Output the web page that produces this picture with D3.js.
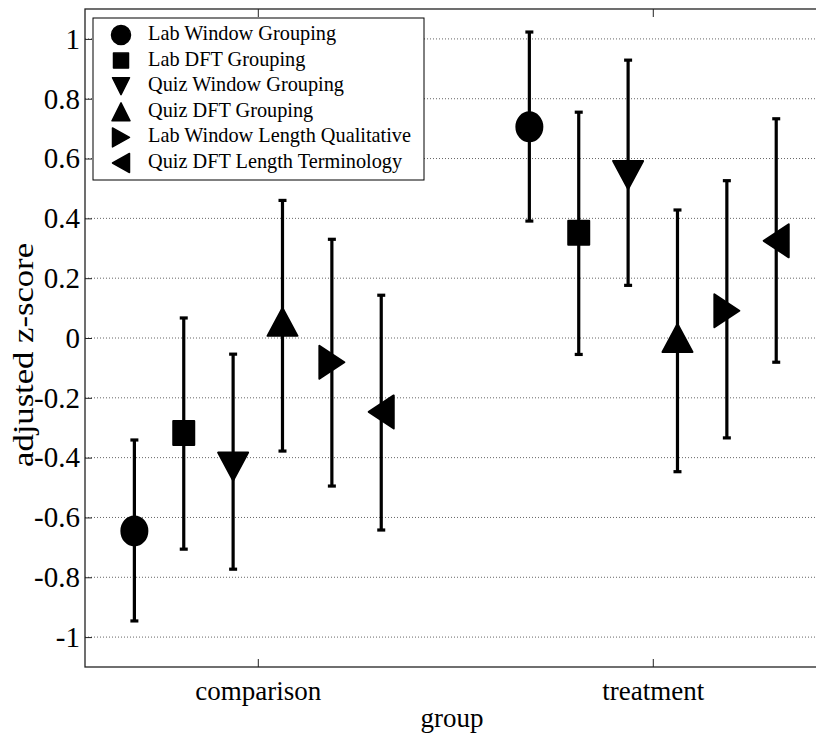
<!DOCTYPE html>
<html>
<head>
<meta charset="utf-8">
<script src="https://cdn.jsdelivr.net/npm/d3@7/dist/d3.min.js"></script>
<style>
body { margin: 0; background: #fff; }
text { font-family: "Liberation Serif", "Times New Roman", serif !important; fill: #000; }
</style>
</head>
<body>
<svg width="816" height="738"></svg>
<script>
var groups = ["comparison", "treatment"];
var seriesNames = ["Lab Window Grouping", "Lab DFT Grouping", "Quiz Window Grouping",
  "Quiz DFT Grouping", "Lab Window Length Qualitative", "Quiz DFT Length Terminology"];
var seriesShapes = ["circle", "square", "down", "up", "right", "left"];

// mean and interval ends, per series, for each group
var comparisonMean = [-0.645, -0.318, -0.43, 0.054, -0.081, -0.247];
var comparisonLow  = [-0.946, -0.706, -0.773, -0.378, -0.495, -0.642];
var comparisonHigh = [-0.341, 0.067, -0.054, 0.46, 0.33, 0.143];
var treatmentMean  = [0.706, 0.352, 0.545, 0.0, 0.091, 0.325];
var treatmentLow   = [0.391, -0.055, 0.176, -0.447, -0.334, -0.081];
var treatmentHigh  = [1.023, 0.755, 0.929, 0.428, 0.526, 0.733];

var yTicks = [-1, -0.8, -0.6, -0.4, -0.2, 0, 0.2, 0.4, 0.6, 0.8, 1];

var svg = d3.select("svg");
var plotLeft = 85, plotRight = 825.6, plotTop = 9, plotBottom = 667;

var x = d3.scaleLinear().domain([0.5625, 2.4375]).range([plotLeft, plotRight]);
var y = d3.scaleLinear().domain([-1.1, 1.1]).range([plotBottom, plotTop]);

var data = [];
[[comparisonMean, comparisonLow, comparisonHigh], [treatmentMean, treatmentLow, treatmentHigh]]
  .forEach(function(g, gi) {
    seriesNames.forEach(function(name, si) {
      data.push({group: gi + 1, series: si, pos: gi + 1 + (si - 2.5) * 0.125,
        mean: g[0][si], low: g[1][si], high: g[2][si]});
    });
  });

// marker path, centered at 0,0
function markerPath(shape, w, h) {
  var a = w / 2, b = h / 2;
  if (shape == "circle") {
    return "M" + (-a) + ",0A" + a + "," + b + " 0 1,0 " + a + ",0A" + a + "," + b + " 0 1,0 " + (-a) + ",0Z";
  }
  if (shape == "square") return "M" + (-a) + "," + (-b) + "H" + a + "V" + b + "H" + (-a) + "Z";
  if (shape == "down") return "M" + (-a) + "," + (-b) + "L" + a + "," + (-b) + "L0," + b + "Z";
  if (shape == "up") return "M" + (-a) + "," + b + "L" + a + "," + b + "L0," + (-b) + "Z";
  if (shape == "right") return "M" + (-a) + "," + (-b) + "L" + a + ",0L" + (-a) + "," + b + "Z";
  return "M" + a + "," + (-b) + "L" + (-a) + ",0L" + a + "," + b + "Z";
}
var markerSize = {circle: [26, 29], square: [21, 24], down: [30, 28], up: [30, 28], right: [25, 33], left: [25, 33]};
var legendSize = {circle: [19, 19], square: [15, 15], down: [17, 17], up: [18, 18], right: [17, 19], left: [17, 19]};

// grid
svg.append("g").selectAll("line")
  .data(yTicks)
  .enter()
  .append("line")
  .attr("x1", plotLeft).attr("x2", plotRight)
  .attr("y1", function(d) { return y(d); })
  .attr("y2", function(d) { return y(d); })
  .attr("stroke", "#666")
  .attr("stroke-width", 1)
  .attr("stroke-dasharray", "1,2");

// axes
var yAxis = svg.append("g")
  .attr("transform", "translate(" + plotLeft + ",0)")
  .call(d3.axisLeft(y).tickValues(yTicks).tickSizeInner(-7).tickSizeOuter(0).tickPadding(5)
    .tickFormat(function(d) { return String(+d.toFixed(1)); }));
yAxis.attr("font-family", null).attr("font-size", null);
yAxis.selectAll("text").style("font-size", "29px");

svg.append("g")
  .attr("transform", "translate(" + plotRight + ",0)")
  .call(d3.axisRight(y).tickValues(yTicks).tickSizeInner(-7).tickSizeOuter(0).tickFormat(""));

var xAxis = svg.append("g")
  .attr("transform", "translate(0," + plotBottom + ")")
  .call(d3.axisBottom(x).tickValues([1, 2]).tickSizeInner(-8).tickSizeOuter(0)
    .tickFormat(function(d) { return groups[d - 1]; }));
xAxis.attr("font-family", null).attr("font-size", null);
xAxis.selectAll("text").attr("y", 33).attr("dy", 0).style("font-size", "27px");

svg.append("g")
  .attr("transform", "translate(0," + plotTop + ")")
  .call(d3.axisTop(x).tickValues([1, 2]).tickSizeInner(-8).tickSizeOuter(0).tickFormat(""));

svg.selectAll(".domain").remove();
svg.selectAll(".tick line").attr("stroke", "#222");

svg.append("rect")
  .attr("x", plotLeft).attr("y", plotTop)
  .attr("width", plotRight - plotLeft).attr("height", plotBottom - plotTop)
  .attr("fill", "none")
  .attr("stroke", "#222")
  .attr("stroke-width", 1.3);

// error bars
var bars = svg.append("g").selectAll("g")
  .data(data)
  .enter()
  .append("g")
  .attr("stroke", "#000")
  .attr("stroke-width", 3.2);
bars.append("line")
  .attr("x1", function(d) { return x(d.pos); })
  .attr("x2", function(d) { return x(d.pos); })
  .attr("y1", function(d) { return y(d.low); })
  .attr("y2", function(d) { return y(d.high); });
bars.append("line")
  .attr("x1", function(d) { return x(d.pos) - 4; })
  .attr("x2", function(d) { return x(d.pos) + 4; })
  .attr("y1", function(d) { return y(d.low); })
  .attr("y2", function(d) { return y(d.low); });
bars.append("line")
  .attr("x1", function(d) { return x(d.pos) - 4; })
  .attr("x2", function(d) { return x(d.pos) + 4; })
  .attr("y1", function(d) { return y(d.high); })
  .attr("y2", function(d) { return y(d.high); });

// markers
svg.append("g").selectAll("path")
  .data(data)
  .enter()
  .append("path")
  .attr("d", function(d) {
    var s = seriesShapes[d.series];
    return markerPath(s, markerSize[s][0], markerSize[s][1]);
  })
  .attr("transform", function(d) { return "translate(" + x(d.pos) + "," + y(d.mean) + ")"; })
  .attr("fill", "#000")
  .attr("stroke", "#000")
  .attr("stroke-width", 2)
  .attr("stroke-linejoin", "round");

// legend
var legend = svg.append("g");
legend.append("rect")
  .attr("x", 93).attr("y", 18)
  .attr("width", 331).attr("height", 162)
  .attr("fill", "#fff")
  .attr("stroke", "#000")
  .attr("stroke-width", 1);
var rows = legend.selectAll(".row")
  .data(seriesNames)
  .enter()
  .append("g")
  .attr("class", "row")
  .attr("transform", function(d, i) { return "translate(0," + (35 + i * 25.6) + ")"; });
rows.append("path")
  .attr("d", function(d, i) {
    var s = seriesShapes[i];
    return markerPath(s, legendSize[s][0], legendSize[s][1]);
  })
  .attr("transform", "translate(121,0)")
  .attr("fill", "#000")
  .attr("stroke", "#000")
  .attr("stroke-width", 1.5)
  .attr("stroke-linejoin", "round");
rows.append("text")
  .attr("x", 148)
  .attr("y", 5)
  .style("font-size", "20.3px")
  .text(function(d) { return d; });

// axis titles
svg.append("text")
  .attr("transform", "translate(33,355) rotate(-90)")
  .attr("text-anchor", "middle")
  .attr("textLength", 224)
  .attr("lengthAdjust", "spacingAndGlyphs")
  .style("font-size", "30px")
  .text("adjusted z-score");

svg.append("text")
  .attr("x", 452)
  .attr("y", 727)
  .attr("text-anchor", "middle")
  .style("font-size", "27px")
  .text("group");
</script>
</body>
</html>
